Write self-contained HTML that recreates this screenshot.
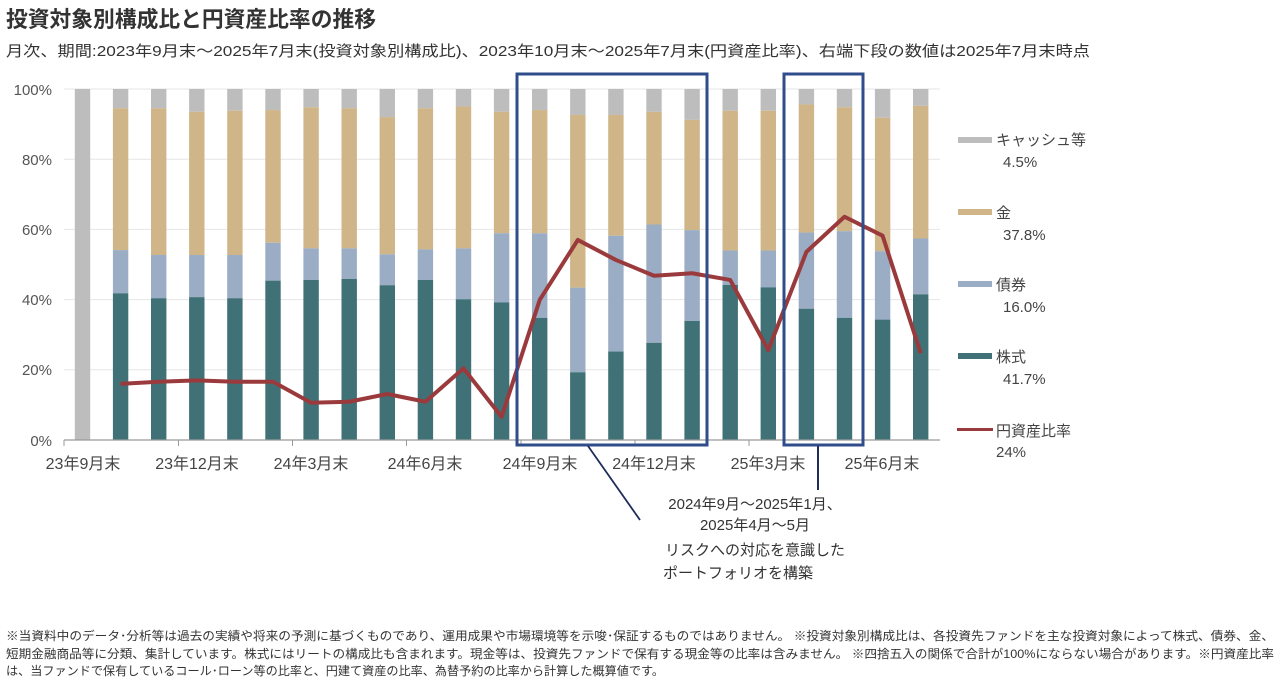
<!DOCTYPE html>
<html><head><meta charset="utf-8"><style>
body{margin:0;width:1280px;height:684px;background:#fff;overflow:hidden;font-family:"Liberation Sans","Noto Sans CJK JP",sans-serif;color:#333}
</style></head><body>
<svg width="1280" height="684" xmlns="http://www.w3.org/2000/svg" font-family="Liberation Sans, Noto Sans CJK JP, sans-serif">
<text x="6" y="27" font-size="22" font-weight="bold" fill="#333" textLength="370" lengthAdjust="spacingAndGlyphs">投資対象別構成比と円資産比率の推移</text>
<text x="6" y="56" font-size="15" fill="#333" textLength="1084" lengthAdjust="spacingAndGlyphs">月次、期間:2023年9月末～2025年7月末(投資対象別構成比)、2023年10月末～2025年7月末(円資産比率)、右端下段の数値は2025年7月末時点</text>
<g stroke="#e6e6e6" stroke-width="1">
<line x1="64" y1="89" x2="940" y2="89"/><line x1="64" y1="159.2" x2="940" y2="159.2"/><line x1="64" y1="229.4" x2="940" y2="229.4"/><line x1="64" y1="299.6" x2="940" y2="299.6"/><line x1="64" y1="369.8" x2="940" y2="369.8"/>
</g>
<g font-size="15" fill="#555" text-anchor="end">
<text x="52" y="95">100%</text><text x="52" y="165">80%</text><text x="52" y="235">60%</text><text x="52" y="305">40%</text><text x="52" y="375">20%</text><text x="52" y="446">0%</text>
</g>
<g id="bars"></g>
<line x1="64" y1="440" x2="940" y2="440" stroke="#999" stroke-width="1.2"/>
<g stroke="#999" stroke-width="1"><line x1="64" y1="440" x2="64" y2="446"/><line x1="178.5" y1="440" x2="178.5" y2="446"/><line x1="292.5" y1="440" x2="292.5" y2="446"/><line x1="406.5" y1="440" x2="406.5" y2="446"/><line x1="521" y1="440" x2="521" y2="446"/><line x1="635" y1="440" x2="635" y2="446"/><line x1="749" y1="440" x2="749" y2="446"/><line x1="864" y1="440" x2="864" y2="446"/></g>
<g font-size="16" fill="#444" text-anchor="middle">
<text x="83" y="469">23年9月末</text><text x="197" y="469">23年12月末</text><text x="311" y="469">24年3月末</text><text x="425" y="469">24年6月末</text><text x="540" y="469">24年9月末</text><text x="654" y="469">24年12月末</text><text x="768" y="469">25年3月末</text><text x="882" y="469">25年6月末</text>
</g>
<polyline id="ln" fill="none" stroke="#9b3a3c" stroke-width="4" stroke-linejoin="round"/>
<rect x="517" y="74" width="190" height="371" fill="none" stroke="#2e4d8a" stroke-width="3"/>
<rect x="784" y="74" width="79" height="371" fill="none" stroke="#2e4d8a" stroke-width="3"/>
<line x1="588" y1="446" x2="640" y2="520" stroke="#1f2d5a" stroke-width="1.8"/>
<line x1="818" y1="446" x2="818" y2="490" stroke="#1f2d5a" stroke-width="2"/>
<g font-size="15" fill="#333" text-anchor="middle">
<text x="755" y="509">2024年9月～2025年1月、</text><text x="755" y="530">2025年4月～5月</text>
<text x="755" y="555">リスクへの対応を意識した</text><text x="738" y="578">ポートフォリオを構築</text>
</g>
<g font-size="15" fill="#444">
<rect x="958" y="137" width="34" height="6" fill="#bdbdbd"/><text x="996" y="145">キャッシュ等</text><text x="1003" y="167">4.5%</text>
<rect x="958" y="209" width="34" height="6" fill="#cfb587"/><text x="996" y="218">金</text><text x="1003" y="240">37.8%</text>
<rect x="958" y="281" width="34" height="6" fill="#9aadc4"/><text x="996" y="290">債券</text><text x="1003" y="312">16.0%</text>
<rect x="958" y="353" width="34" height="6" fill="#3f7176"/><text x="996" y="362">株式</text><text x="1003" y="384">41.7%</text>
<rect x="957" y="428" width="36" height="3" fill="#9b3a3c"/><text x="996" y="436">円資産比率</text><text x="996" y="457">24%</text>
</g>
<g font-size="12" fill="#333">
<text x="6" y="640" textLength="1268" lengthAdjust="spacingAndGlyphs">※当資料中のデータ･分析等は過去の実績や将来の予測に基づくものであり、運用成果や市場環境等を示唆･保証するものではありません。 ※投資対象別構成比は、各投資先ファンドを主な投資対象によって株式、債券、金、</text>
<text x="6" y="658" textLength="1268" lengthAdjust="spacingAndGlyphs">短期金融商品等に分類、集計しています。株式にはリートの構成比も含まれます。現金等は、投資先ファンドで保有する現金等の比率は含みません。 ※四捨五入の関係で合計が100%にならない場合があります。※円資産比率</text>
<text x="6" y="675" textLength="658" lengthAdjust="spacingAndGlyphs">は、当ファンドで保有しているコール･ローン等の比率と、円建て資産の比率、為替予約の比率から計算した概算値です。</text>
</g>
</svg>
<script>
var d=[[0,0,0,null],[41.8,54.1,94.5,16],[40.4,52.7,94.5,16.6],[40.7,52.7,93.5,17],[40.4,52.7,93.8,16.6],[45.4,56.2,94,16.6],[45.6,54.6,94.8,10.6],[45.9,54.6,94.5,10.9],[44.1,52.9,92,13.1],[45.6,54.3,94.5,10.9],[40.1,54.6,95,20.4],[39.2,58.9,93.5,6.6],[34.8,58.9,94,39.9],[19.3,43.4,92.6,57],[25.2,58.2,92.6,51.3],[27.7,61.4,93.5,46.8],[33.9,59.8,91.2,47.5],[44.2,54,93.8,45.6],[43.5,54,93.8,25.6],[37.4,59.1,95.6,53.6],[34.8,59.5,94.8,63.6],[34.3,53.8,91.8,58.2],[41.5,57.4,95.2,24.7]];
function Y(v){return 440-3.51*v}
var s='',pts=[];
d.forEach(function(r,i){var cx=82.5+i*38.1,x=cx-7.7,w=15.4;
s+='<rect x="'+x+'" y="89" width="'+w+'" height="'+(Y(r[2])-89)+'" fill="#bdbdbd"/>';
if(i>0){s+='<rect x="'+x+'" y="'+Y(r[2])+'" width="'+w+'" height="'+(Y(r[1])-Y(r[2]))+'" fill="#cfb587"/>';
s+='<rect x="'+x+'" y="'+Y(r[1])+'" width="'+w+'" height="'+(Y(r[0])-Y(r[1]))+'" fill="#9aadc4"/>';
s+='<rect x="'+x+'" y="'+Y(r[0])+'" width="'+w+'" height="'+(440-Y(r[0]))+'" fill="#3f7176"/>';}
if(r[3]!==null)pts.push(cx+','+Y(r[3]));});
document.getElementById('bars').innerHTML=s;
document.getElementById('ln').setAttribute('points',pts.join(' '));
</script>
</body></html>
